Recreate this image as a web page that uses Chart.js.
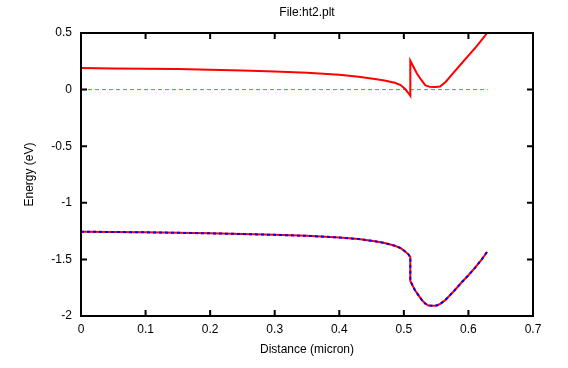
<!DOCTYPE html>
<html>
<head>
<meta charset="utf-8">
<script src="https://cdn.jsdelivr.net/npm/chart.js@4.4.1/dist/chart.umd.min.js"></script>
<style>
  html, body { margin: 0; padding: 0; background: #fff; }
  #wrap { width: 568px; height: 368px; }
</style>
</head>
<body>
<div id="wrap"><canvas id="bandChart"></canvas></div>
<script>
// banda de conducao (Ec)
const ecX = [0, 0.05, 0.1, 0.15, 0.2, 0.25, 0.3, 0.35, 0.4, 0.43, 0.455, 0.47, 0.486, 0.495, 0.502, 0.507, 0.51,
             0.51, 0.52, 0.527, 0.533, 0.54, 0.548, 0.556, 0.565, 0.577, 0.59, 0.6, 0.61, 0.62, 0.629];
const ecY = [0.19, 0.187, 0.184, 0.181, 0.176, 0.168, 0.159, 0.148, 0.131, 0.114, 0.094, 0.08, 0.06, 0.04, 0.005, -0.03, -0.055,
             0.255, 0.144, 0.085, 0.04, 0.024, 0.022, 0.028, 0.07, 0.15, 0.235, 0.3, 0.365, 0.435, 0.5];

// banda de valencia (Ev)
const evX = [0, 0.05, 0.1, 0.15, 0.2, 0.25, 0.3, 0.35, 0.4, 0.43, 0.455, 0.47, 0.486, 0.495, 0.502, 0.507, 0.51,
             0.51, 0.517, 0.523, 0.528, 0.533, 0.538, 0.545, 0.551, 0.557, 0.564, 0.578, 0.59, 0.6, 0.61, 0.62, 0.629];
const evY = [-1.255, -1.258, -1.261, -1.265, -1.27, -1.276, -1.283, -1.292, -1.306, -1.32, -1.34, -1.355, -1.38, -1.4, -1.43, -1.455, -1.48,
             -1.69, -1.77, -1.82, -1.86, -1.89, -1.907, -1.91, -1.907, -1.89, -1.86, -1.777, -1.7, -1.64, -1.575, -1.505, -1.432];

// nivel de Fermi
const efX = [0, 0.63];
const efY = [0, 0];

const xTicks = [0, 0.1, 0.2, 0.3, 0.4, 0.5, 0.6, 0.7];
const yTicks = [-2, -1.5, -1, -0.5, 0, 0.5];

const pts = (xs, ys) => xs.map((x, i) => ({ x: x, y: ys[i] }));

const FONT = 'Liberation Sans, Arial, sans-serif';

// moldura e ticks para dentro, estilo gnuplot
const framePlugin = {
  id: 'frame',
  afterDraw(chart) {
    const { ctx, chartArea: a, scales } = chart;
    ctx.save();
    ctx.strokeStyle = '#000';
    ctx.lineWidth = 2;
    ctx.strokeRect(a.left, a.top, a.right - a.left, a.bottom - a.top);
    const t = 6;
    ctx.beginPath();
    xTicks.forEach(v => {
      const px = scales.x.getPixelForValue(v);
      ctx.moveTo(px, a.bottom); ctx.lineTo(px, a.bottom - t);
      ctx.moveTo(px, a.top); ctx.lineTo(px, a.top + t);
    });
    yTicks.forEach(v => {
      const py = scales.y.getPixelForValue(v);
      ctx.moveTo(a.left, py); ctx.lineTo(a.left + t, py);
      ctx.moveTo(a.right, py); ctx.lineTo(a.right - t, py);
    });
    ctx.stroke();

    ctx.fillStyle = '#000';
    ctx.font = '12px ' + FONT;
    ctx.textAlign = 'center';
    ctx.textBaseline = 'middle';
    ctx.fillText('Distance (micron)', (a.left + a.right) / 2, 350);
    ctx.translate(30, (a.top + a.bottom) / 2);
    ctx.rotate(-Math.PI / 2);
    ctx.fillText('Energy (eV)', 0, 0);
    ctx.restore();
  }
};

const ctx = document.getElementById('bandChart').getContext('2d');
const bandChart = new Chart(ctx, {
  type: 'scatter',
  data: {
    datasets: [
      {
        label: 'Ef',
        data: pts(efX, efY),
        showLine: true,
        borderColor: '#00dd00',
        borderWidth: 1,
        borderDash: [4, 3],
        pointRadius: 0,
        order: 3
      },
      {
        label: 'Ec',
        data: pts(ecX, ecY),
        showLine: true,
        borderColor: '#ff0000',
        borderWidth: 2,
        pointRadius: 0,
        order: 1
      },
      {
        label: 'Ev',
        data: pts(evX, evY),
        showLine: true,
        borderColor: '#ff0000',
        borderWidth: 2,
        pointRadius: 0,
        order: 2
      },
      {
        label: 'Ev2',
        data: pts(evX, evY),
        showLine: true,
        borderColor: '#0000ff',
        borderWidth: 2,
        borderDash: [3, 3],
        pointRadius: 0,
        order: 0
      }
    ]
  },
  options: {
    responsive: true,
    maintainAspectRatio: false,
    animation: false,
    layout: {
      padding: { top: 0, bottom: 0, left: 0, right: 35 }
    },
    plugins: {
      legend: { display: false },
      tooltip: { enabled: false },
      title: {
        display: true,
        text: 'File:ht2.plt',
        fullSize: false,
        color: '#000',
        font: { family: FONT, size: 12, weight: 'normal' },
        padding: { top: 5, bottom: 13.6 }
      }
    },
    scales: {
      x: {
        type: 'linear',
        min: 0,
        max: 0.7,
        afterBuildTicks: s => { s.ticks = xTicks.map(v => ({ value: v })); },
        afterFit: s => { s.height = 52; },
        grid: { display: false, drawTicks: false },
        border: { display: false },
        ticks: {
          color: '#000',
          padding: 6,
          font: { family: FONT, size: 12 },
          callback: v => String(v)
        }
      },
      y: {
        type: 'linear',
        min: -2,
        max: 0.5,
        afterBuildTicks: s => { s.ticks = yTicks.map(v => ({ value: v })); },
        afterFit: s => { s.width = 81; },
        grid: { display: false, drawTicks: false },
        border: { display: false },
        ticks: {
          color: '#000',
          padding: 9,
          font: { family: FONT, size: 12 },
          callback: v => String(v)
        }
      }
    }
  },
  plugins: [framePlugin]
});
</script>
</body>
</html>
